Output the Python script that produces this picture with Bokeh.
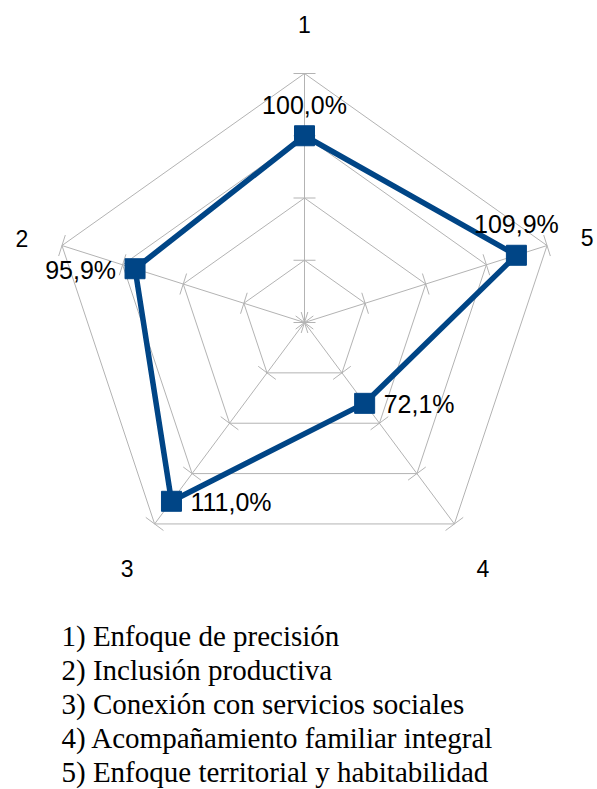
import math
from bokeh.plotting import figure
from bokeh.models import Range1d, ColumnDataSource
from bokeh.core.properties import value
from bokeh.embed import file_html
from bokeh.resources import INLINE

# ---- data ----
categories = ["1", "2", "3", "4", "5"]
values = [1.000, 0.959, 1.110, 0.721, 1.099]
value_labels = ["100,0%", "95,9%", "111,0%", "72,1%", "109,9%"]
grid_levels = [0.4, 0.6, 0.8, 1.0, 1.2]
legend_lines = [
    "1) Enfoque de precisión",
    "2) Inclusión productiva",
    "3) Conexión con servicios sociales",
    "4) Acompañamiento familiar integral",
    "5) Enfoque territorial y habitabilidad",
]

# ---- geometry (canvas pixels) ----
W, H = 597, 789
CX, CY = 304, 322
RX, RY = 255.0, 249.0   # pixels per unit radius (horizontal / vertical)
vmin, vmax = grid_levels[0], grid_levels[-1]
SERIES = "#004586"
GRID = "#b3b3b3"


def rnorm(v):
    return (v - vmin) / (vmax - vmin)


def ang(k):
    return math.radians(90 + 72 * k)


def polar(r, k):
    a = ang(k)
    return r * math.cos(a), r * math.sin(a)


p = figure(width=W, height=H,
           x_range=Range1d(-CX / RX, (W - CX) / RX),
           y_range=Range1d(-(H - CY) / RY, CY / RY),
           toolbar_location=None, output_backend="svg",
           x_axis_location=None, y_axis_location=None,
           min_border=0, outline_line_color=None)
p.grid.visible = False

n = len(categories)

# rings
for lv in grid_levels[1:]:
    r = rnorm(lv)
    xs = [polar(r, k)[0] for k in range(n)] + [polar(r, 0)[0]]
    ys = [polar(r, k)[1] for k in range(n)] + [polar(r, 0)[1]]
    p.line(xs, ys, line_color=GRID, line_width=1)

# spokes
sx, sy = [], []
for k in range(n):
    x1, y1 = polar(1.0, k)
    sx.append([0, x1])
    sy.append([0, y1])
p.multi_line(sx, sy, line_color=GRID, line_width=1)

# ticks (perpendicular to spokes in screen space, half-length 11 px)
half_px = 11.0
tx, ty = [], []
for lv in grid_levels:
    r = rnorm(lv)
    for k in range(n):
        a = ang(k)
        x0, y0 = polar(r, k)
        # spoke direction in pixels
        ddx, ddy = math.cos(a) * RX, math.sin(a) * RY
        L = math.hypot(ddx, ddy)
        nx, ny = -ddy / L * half_px, ddx / L * half_px
        tx.append([x0 - nx / RX, x0 + nx / RX])
        ty.append([y0 - ny / RY, y0 + ny / RY])
p.multi_line(tx, ty, line_color=GRID, line_width=1)

# series
px = [polar(rnorm(v), k)[0] for k, v in enumerate(values)]
py = [polar(rnorm(v), k)[1] for k, v in enumerate(values)]
p.line(px + [px[0]], py + [py[0]], line_color=SERIES, line_width=5.5,
       line_join="miter")
p.scatter(px, py, marker="square", size=20, fill_color=SERIES,
          line_color=SERIES)

# data labels
place = ["above", "left", "right", "right", "above"]
for k in range(n):
    if place[k] == "above":
        kw = dict(text_align="center", text_baseline="middle", x_offset=0, y_offset=-31)
    elif place[k] == "left":
        kw = dict(text_align="right", text_baseline="middle", x_offset=-19, y_offset=1)
    else:
        kw = dict(text_align="left", text_baseline="middle", x_offset=19, y_offset=1)
    p.text([px[k]], [py[k]], text=[value_labels[k]],
           text_font=value("Liberation Sans"), text_font_size="25px",
           text_color="black", **kw)

# category labels
RL = 1.19
cat_src = ColumnDataSource(dict(
    x=[polar(RL, k)[0] for k in range(n)],
    y=[polar(RL, k)[1] for k in range(n)],
    t=categories,
    xo=[0, 6, 1, 0, -6],
    yo=[-2, 8, 6, 6, 7],
))
p.text(x="x", y="y", text="t", x_offset="xo", y_offset="yo", source=cat_src,
       text_font=value("Liberation Sans"), text_font_size="23px",
       text_align="center", text_baseline="middle", text_color="black")

# legend text
lx = (61 - CX) / RX
ly = [(CY - (635 + i * 34.2)) / RY for i in range(len(legend_lines))]
p.text([lx] * len(legend_lines), ly, text=legend_lines,
       text_font=value("Liberation Serif"), text_font_size="29px",
       text_align="left", text_baseline="alphabetic", text_color="black")

open("out.html", "w").write(file_html(p, INLINE))
